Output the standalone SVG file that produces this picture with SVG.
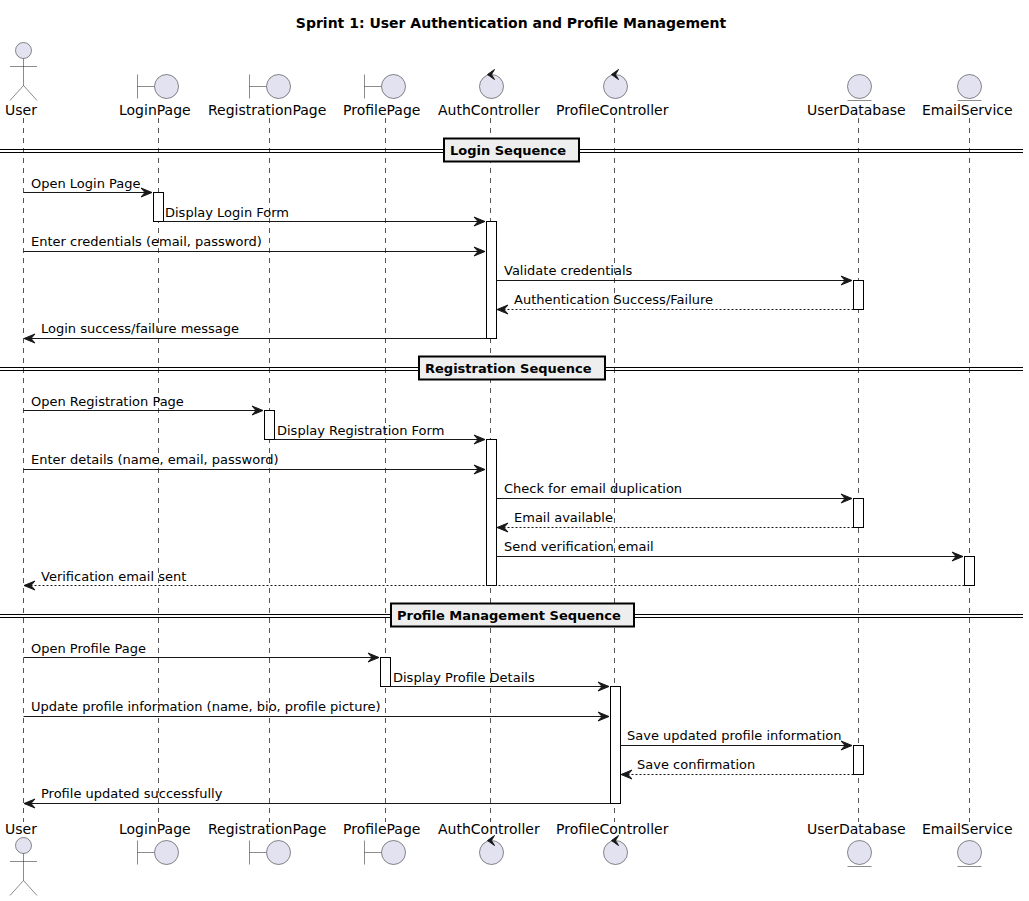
<svg xmlns="http://www.w3.org/2000/svg" xmlns:xlink="http://www.w3.org/1999/xlink" width="1029" height="901" viewBox="0 0 1029 901">
<style>
text{font-family:"DejaVu Sans",sans-serif;font-size:13px;fill:#000}
.name{font-size:14px;fill:#000}
.b{font-weight:bold}
.life{stroke:#555;stroke-width:1;stroke-dasharray:5 5;fill:none}
.act{fill:#fff;stroke:#000;stroke-width:1}
.m{stroke:#181818;stroke-width:1;fill:none}
.d{stroke-dasharray:2 2}
.h{fill:#181818;stroke:#181818;stroke-width:1}
.p{fill:#E2E2F0;stroke:#181818;stroke-width:.5}
.pl{fill:none;stroke:#181818;stroke-width:.5}
.div{stroke:#000;stroke-width:1;fill:none}
.box{fill:#EEE;stroke:#000;stroke-width:2}
</style>
<defs>
<g id="actor"><circle class="p" cx="0" cy="0" r="8"/><path class="pl" d="M0 8V35M-13.5 16H13.5M0 35L-13.5 50M0 35L13.5 50"/></g>
<g id="boundary"><path class="pl" d="M-29 -12V12M-29 0H-12"/><circle class="p" cx="0" cy="0" r="12"/></g>
<g id="control"><circle class="p" cx="0" cy="0" r="12"/><path class="h" d="M3 -17L-4 -12L3 -7L0 -12Z"/></g>
<g id="entity"><circle class="p" cx="0" cy="0" r="12"/><path class="pl" d="M-12 14H12"/></g>
<path id="ar" class="h" d="M0 0L-11 -4.5L-7 0L-11 4.5Z"/>
<path id="al" class="h" d="M0 0L11 -4.5L7 0L11 4.5Z"/>
</defs>
<rect width="1029" height="901" fill="#fff"/>
<text class="b" x="511" y="28" text-anchor="middle" style="font-size:14px">Sprint 1: User Authentication and Profile Management</text>
<g id="lifelines">
<path class="life" d="M23.5 118V822M158.5 118V822M269.5 118V822M385.5 118V822M490.5 118V822M614.5 118V822M858.5 118V822M969.5 118V822"/>
</g>
<g id="dividers">
<path class="div" d="M0 149.5H1023M0 152.5H1023"/><rect class="box" x="444" y="138.5" width="135" height="23"/><text class="b" x="450" y="155">Login Sequence</text>
<path class="div" d="M0 367.5H1023M0 370.5H1023"/><rect class="box" x="419" y="356.5" width="186" height="23"/><text class="b" x="425" y="373">Registration Sequence</text>
<path class="div" d="M0 614.5H1023M0 617.5H1023"/><rect class="box" x="391" y="603.5" width="243" height="23"/><text class="b" x="397" y="620">Profile Management Sequence</text>
</g>
<g id="activations">
<rect class="act" x="153.5" y="192.5" width="10" height="29"/>
<rect class="act" x="486.5" y="221.5" width="10" height="117"/>
<rect class="act" x="853.5" y="280.5" width="10" height="29"/>
<rect class="act" x="264.5" y="410.5" width="10" height="29"/>
<rect class="act" x="486.5" y="439.5" width="10" height="146"/>
<rect class="act" x="853.5" y="498.5" width="10" height="29"/>
<rect class="act" x="964.5" y="556.5" width="10" height="29"/>
<rect class="act" x="380.5" y="657.5" width="10" height="29"/>
<rect class="act" x="610.5" y="686.5" width="10" height="117"/>
<rect class="act" x="853.5" y="745.5" width="10" height="29"/>
</g>
<g id="connectors">
<path class="m" d="M23.5 192.5H152"/><use href="#ar" x="152" y="192.5"/><text x="31" y="188">Open Login Page</text>
<path class="m" d="M163.5 221.5H485"/><use href="#ar" x="485" y="221.5"/><text x="165" y="217">Display Login Form</text>
<path class="m" d="M23.5 251.5H485"/><use href="#ar" x="485" y="251.5"/><text x="31" y="246">Enter credentials (email, password)</text>
<path class="m" d="M496.5 280.5H852"/><use href="#ar" x="852" y="280.5"/><text x="504" y="275">Validate credentials</text>
<path class="m d" d="M853.5 309.5H497"/><use href="#al" x="497" y="309.5"/><text x="514" y="304">Authentication Success/Failure</text>
<path class="m" d="M486.5 338.5H24"/><use href="#al" x="24" y="338.5"/><text x="41" y="333">Login success/failure message</text>
<path class="m" d="M23.5 410.5H263"/><use href="#ar" x="263" y="410.5"/><text x="31" y="406">Open Registration Page</text>
<path class="m" d="M274.5 439.5H485"/><use href="#ar" x="485" y="439.5"/><text x="277" y="435">Display Registration Form</text>
<path class="m" d="M23.5 469.5H485"/><use href="#ar" x="485" y="469.5"/><text x="31" y="464">Enter details (name, email, password)</text>
<path class="m" d="M496.5 498.5H852"/><use href="#ar" x="852" y="498.5"/><text x="504" y="493">Check for email duplication</text>
<path class="m d" d="M853.5 527.5H497"/><use href="#al" x="497" y="527.5"/><text x="514" y="522">Email available</text>
<path class="m" d="M496.5 556.5H963"/><use href="#ar" x="963" y="556.5"/><text x="504" y="551">Send verification email</text>
<path class="m d" d="M964.5 585.5H24"/><use href="#al" x="24" y="585.5"/><text x="41" y="581">Verification email sent</text>
<path class="m" d="M23.5 657.5H379"/><use href="#ar" x="379" y="657.5"/><text x="31" y="653">Open Profile Page</text>
<path class="m" d="M390.5 686.5H609"/><use href="#ar" x="609" y="686.5"/><text x="393" y="682">Display Profile Details</text>
<path class="m" d="M23.5 716.5H609"/><use href="#ar" x="609" y="716.5"/><text x="31" y="711">Update profile information (name, bio, profile picture)</text>
<path class="m" d="M620.5 745.5H852"/><use href="#ar" x="852" y="745.5"/><text x="627" y="740">Save updated profile information</text>
<path class="m d" d="M853.5 774.5H621"/><use href="#al" x="621" y="774.5"/><text x="637" y="769">Save confirmation</text>
<path class="m" d="M610.5 803.5H24"/><use href="#al" x="24" y="803.5"/><text x="41" y="798">Profile updated successfully</text>
</g>
<g id="User"><use href="#actor" x="23.5" y="50.5"/><text class="name" x="5" y="115">User</text></g>
<g id="User-bottom"><use href="#actor" x="23.5" y="845.5"/><text class="name" x="5" y="834">User</text></g>
<g id="LoginPage"><use href="#boundary" x="166.5" y="86.5"/><text class="name" x="119" y="115">LoginPage</text></g>
<g id="LoginPage-bottom"><use href="#boundary" x="166.5" y="852.5"/><text class="name" x="119" y="834">LoginPage</text></g>
<g id="RegistrationPage"><use href="#boundary" x="278.5" y="86.5"/><text class="name" x="208" y="115">RegistrationPage</text></g>
<g id="RegistrationPage-bottom"><use href="#boundary" x="278.5" y="852.5"/><text class="name" x="208" y="834">RegistrationPage</text></g>
<g id="ProfilePage"><use href="#boundary" x="393.5" y="86.5"/><text class="name" x="343" y="115">ProfilePage</text></g>
<g id="ProfilePage-bottom"><use href="#boundary" x="393.5" y="852.5"/><text class="name" x="343" y="834">ProfilePage</text></g>
<g id="AuthController"><use href="#control" x="491.5" y="86.5"/><text class="name" x="438" y="115">AuthController</text></g>
<g id="AuthController-bottom"><use href="#control" x="491.5" y="852.5"/><text class="name" x="438" y="834">AuthController</text></g>
<g id="ProfileController"><use href="#control" x="615.5" y="86.5"/><text class="name" x="556" y="115">ProfileController</text></g>
<g id="ProfileController-bottom"><use href="#control" x="615.5" y="852.5"/><text class="name" x="556" y="834">ProfileController</text></g>
<g id="UserDatabase"><use href="#entity" x="859.5" y="86.5"/><text class="name" x="807" y="115">UserDatabase</text></g>
<g id="UserDatabase-bottom"><use href="#entity" x="859.5" y="852.5"/><text class="name" x="807" y="834">UserDatabase</text></g>
<g id="EmailService"><use href="#entity" x="969.5" y="86.5"/><text class="name" x="922" y="115">EmailService</text></g>
<g id="EmailService-bottom"><use href="#entity" x="969.5" y="852.5"/><text class="name" x="922" y="834">EmailService</text></g>
</svg>
